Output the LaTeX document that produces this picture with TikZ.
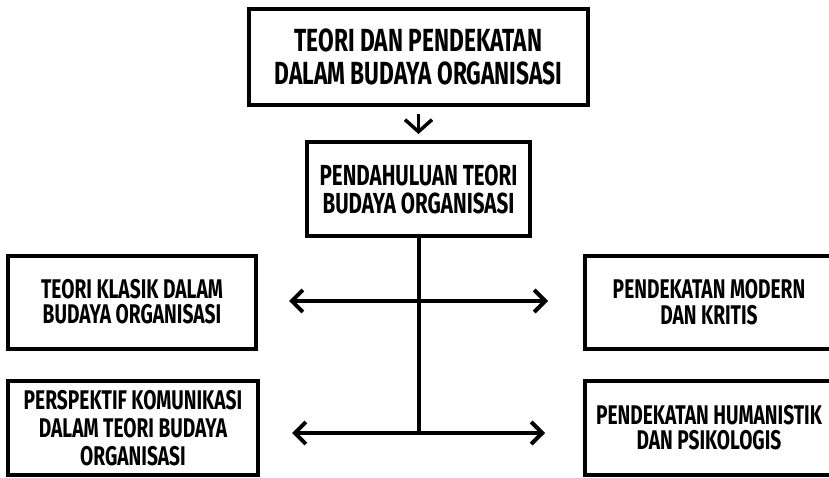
\documentclass[tikz,border=0pt]{standalone}
\usepackage{fontspec}
\newfontfamily\boxfont{Fira Sans}[FakeStretch=0.71]
\usetikzlibrary{arrows.meta}

\begin{document}
\begin{tikzpicture}[x=1pt,y=-1pt,>={Straight Barb[length=11pt,width=22pt]},
    box/.style={draw,line width=4pt,inner sep=0pt,align=center,
        font=\boxfont\bfseries\fontsize{27}{25}\selectfont},
    link/.style={line width=4pt,->}]
    \useasboundingbox (0,0) rectangle (829,478);
    \node [box,minimum width=339pt,minimum height=96pt,font=\boxfont\bfseries\fontsize{32}{33}\selectfont]
        (main) at (418.5,57) {TEORI DAN PENDEKATAN\\DALAM BUDAYA ORGANISASI};
    \node [box,minimum width=223pt,minimum height=94pt,font=\boxfont\bfseries\fontsize{29}{28}\selectfont]
        (intro) at (418.5,189) {PENDAHULUAN TEORI\\BUDAYA ORGANISASI};
    \node [box,minimum width=248pt,minimum height=93pt] (klasik) at (132,302)
        {TEORI KLASIK DALAM\\BUDAYA ORGANISASI};
    \node [box,minimum width=250pt,minimum height=94pt,font=\boxfont\bfseries\fontsize{27}{28}\selectfont]
        (komunikasi) at (133,428) {PERSPEKTIF KOMUNIKASI\\DALAM TEORI BUDAYA\\ORGANISASI};
    \node [box,minimum width=248pt,minimum height=93pt,font=\boxfont\bfseries\fontsize{27}{26}\selectfont]
        (modern) at (709,302) {PENDEKATAN MODERN\\DAN KRITIS};
    \node [box,minimum width=248pt,minimum height=94pt,font=\boxfont\bfseries\fontsize{27}{25}\selectfont]
        (humanistik) at (709,428) {PENDEKATAN HUMANISTIK\\DAN PSIKOLOGIS};
    \coordinate (j1) at (418.5,301);
    \coordinate (j2) at (418.5,433);
    \draw [->,line width=3.5pt,>={Straight Barb[length=12pt,width=27pt]},shorten <=7pt,shorten >=6pt]
        (main) -- (intro);
    \draw [line width=4pt] (intro.south) -- (j2);
    \draw [link,shorten >=31pt] (j1) -- (j1 -| klasik.east);
    \draw [link,shorten >=35pt] (j1) -- (j1 -| modern.west);
    \draw [link,shorten >=32pt] (j2) -- (j2 -| komunikasi.east);
    \draw [link,shorten >=38pt] (j2) -- (j2 -| humanistik.west);
\end{tikzpicture}
\end{document}
